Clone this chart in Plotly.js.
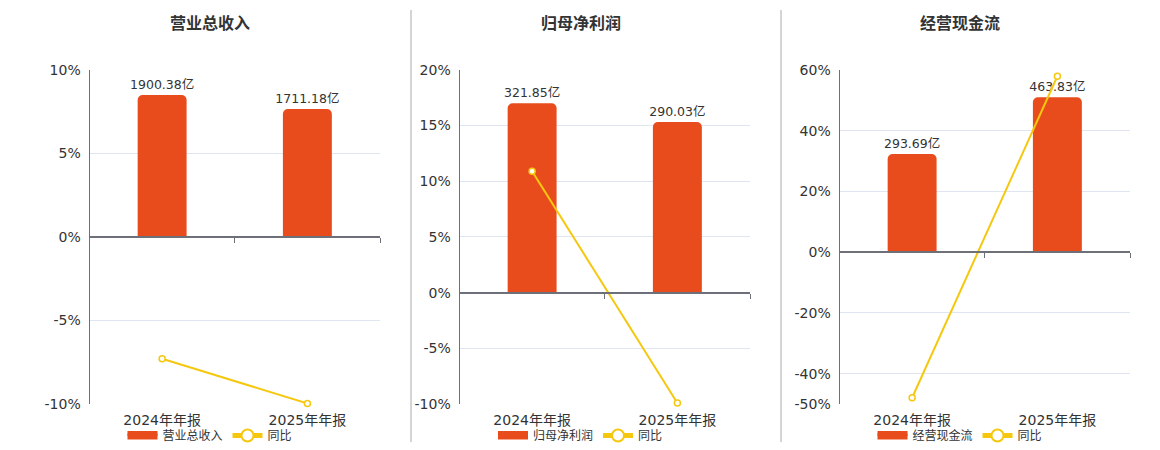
<!DOCTYPE html>
<html>
<head>
<meta charset="utf-8">
<script src="https://cdn.plot.ly/plotly-3.0.1.min.js"></script>
<style>html,body{margin:0;padding:0;background:#fff;}#chart{width:1160px;height:450px;}</style>
</head>
<body>
<div id="chart"></div>
<script>
// ---- data ----
const categories = ['2024年年报', '2025年年报'];
const panelTitles = ['营业总收入', '归母净利润', '经营现金流'];
const revenue = [1900.38, 1711.18];
const revenueYoY = [-7.29, -9.96];
const netProfit = [321.85, 290.03];
const netProfitYoY = [10.9, -9.9];
const cashFlow = [293.69, 463.83];
const cashFlowYoY = [-47.9, 57.9];
const tickVals1 = [-10, -5, 0, 5, 10];
const tickVals2 = [-10, -5, 0, 5, 10, 15, 20];
const tickVals3 = [-50, -40, -20, 0, 20, 40, 60];
const pctRange1 = [-10, 10];
const pctRange2 = [-10, 20];
const pctRange3 = [-50, 60];
const yoyName = '同比';
const unit = '亿';

const panels = [
  {title: panelTitles[0], bars: revenue, yoy: revenueYoY, ticks: tickVals1, range: pctRange1},
  {title: panelTitles[1], bars: netProfit, yoy: netProfitYoY, ticks: tickVals2, range: pctRange2},
  {title: panelTitles[2], bars: cashFlow, yoy: cashFlowYoY, ticks: tickVals3, range: pctRange3}
];

const W = 1160, H = 450;
const FONT = 'DejaVu Sans, Noto Sans CJK SC, sans-serif';
const CJK = 'Noto Sans CJK SC, DejaVu Sans, sans-serif';
const BAR_COLOR = '#e84c1d';
const LINE_COLOR = '#f5c80f';
const AXIS_COLOR = '#6e7079';
const GRID_COLOR = '#e0e6f1';
const TEXT_COLOR = '#333333';

const plotX = [[89.5, 380], [459.5, 750], [839.5, 1130]];
const centers = [210, 580.5, 960];
const yDom = [1 - 405 / H, 1 - 70 / H];

const data = [];
const layout = {
  width: W, height: H,
  margin: {l: 0, r: 0, t: 0, b: 0},
  paper_bgcolor: '#fff', plot_bgcolor: 'rgba(0,0,0,0)',
  font: {family: FONT, color: TEXT_COLOR},
  showlegend: true,
  annotations: [],
  shapes: []
};

panels.forEach((p, k) => {
  const i = k + 1;
  const xa = i === 1 ? 'x' : 'x' + i;
  const xz = 'x' + (i + 3);
  const yb = i === 1 ? 'y' : 'y' + (2 * i - 1);
  const yp = 'y' + (2 * i);
  const legendId = i === 1 ? 'legend' : 'legend' + i;

  // bar axis scaled so the largest bar reaches 85% of the upper part, zero aligned with 0%
  const maxBar = Math.max.apply(null, p.bars);
  const top = maxBar / 0.85;
  const scale = top / p.range[1];
  const barRange = [p.range[0] * scale, p.range[1] * scale];

  data.push({
    type: 'bar', name: p.title, x: categories, y: p.bars,
    xaxis: xa, yaxis: yb, showlegend: false,
    width: 0.337,
    marker: {color: BAR_COLOR, cornerradius: 5},
    texttemplate: '%{y:.2f}' + unit, textposition: 'outside', constraintext: 'none',
    textfont: {size: 12.5, color: TEXT_COLOR, family: FONT},
    cliponaxis: false, hoverinfo: 'skip'
  });
  // legend swatch for the bar series
  data.push({
    type: 'scatter', mode: 'lines', name: p.title, x: [null], y: [null],
    xaxis: xa, yaxis: yb, legend: legendId, fill: 'toself', fillcolor: BAR_COLOR,
    line: {color: BAR_COLOR, width: 5}, hoverinfo: 'skip'
  });
  data.push({
    type: 'scatter', mode: 'lines+markers', name: yoyName, x: categories, y: p.yoy,
    xaxis: xz, yaxis: yp, legend: legendId,
    line: {color: LINE_COLOR, width: 2},
    marker: {symbol: 'circle', size: 6, color: '#ffffff', line: {color: LINE_COLOR, width: 1.5}},
    cliponaxis: false, hoverinfo: 'skip'
  });

  const dom = [plotX[k][0] / W, plotX[k][1] / W];
  const xKey = i === 1 ? 'xaxis' : 'xaxis' + i;
  layout[xKey] = {
    domain: dom, anchor: yb, type: 'category', categoryarray: categories,
    range: [-0.5, 1.5], showline: false, showgrid: false, zeroline: false,
    ticks: '', ticklabelstandoff: 6,
    tickfont: {size: 14, color: TEXT_COLOR, family: FONT}, fixedrange: true
  };
  const zeroPos = yDom[0] + (0 - p.range[0]) / (p.range[1] - p.range[0]) * (yDom[1] - yDom[0]);
  layout['xaxis' + (i + 3)] = {
    overlaying: xa, anchor: 'free', position: zeroPos, side: 'bottom',
    type: 'category', categoryarray: categories, range: [-0.5, 1.5],
    showline: true, linecolor: AXIS_COLOR, linewidth: 2,
    ticks: 'outside', ticklen: 5, tickwidth: 1, tickcolor: AXIS_COLOR, tickson: 'boundaries',
    showticklabels: false, showgrid: false, zeroline: false, fixedrange: true
  };
  layout[i === 1 ? 'yaxis' : 'yaxis' + (2 * i - 1)] = {
    domain: yDom, anchor: xa, range: barRange,
    showgrid: false, zeroline: false, showline: false, showticklabels: false, ticks: '', fixedrange: true
  };
  layout['yaxis' + (2 * i)] = {
    overlaying: yb, anchor: xa, side: 'left', range: p.range,
    tickmode: 'array', tickvals: p.ticks, ticktext: p.ticks.map(v => v + '%'),
    showgrid: true, gridcolor: GRID_COLOR, gridwidth: 1,
    zeroline: false, showline: true, linecolor: AXIS_COLOR, linewidth: 1,
    ticks: '', ticklabelstandoff: 5,
    tickfont: {size: 14, color: TEXT_COLOR, family: FONT}, fixedrange: true
  };
  layout[legendId] = {
    orientation: 'h', x: centers[k] / W, xanchor: 'center', y: 1 - 436 / H, yanchor: 'middle',
    font: {size: 12, color: TEXT_COLOR, family: CJK}, itemsizing: 'constant',
    bgcolor: 'rgba(0,0,0,0)', tracegroupgap: 0, itemwidth: 30
  };
  layout.annotations.push({
    text: '<b>' + p.title + '</b>', xref: 'paper', yref: 'paper',
    x: centers[k] / W, y: 1 - 22 / H, xanchor: 'center', yanchor: 'middle',
    showarrow: false, font: {size: 16, color: TEXT_COLOR, family: CJK}
  });
});

[411, 781].forEach(xp => {
  layout.shapes.push({
    type: 'line', xref: 'paper', yref: 'paper',
    x0: xp / W, x1: xp / W, y0: 1 - 10 / H, y1: 1 - 443 / H,
    line: {color: '#aaaaaa', width: 1}
  });
});

Plotly.newPlot('chart', data, layout, {displayModeBar: false, staticPlot: true});
</script>
</body>
</html>
